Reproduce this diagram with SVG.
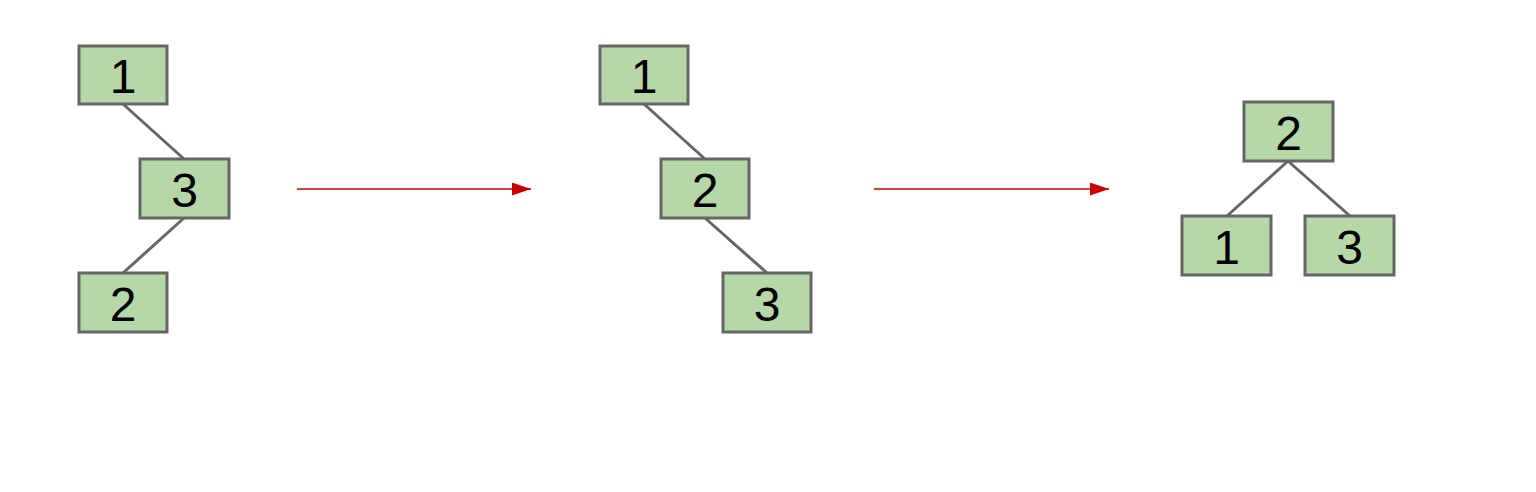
<svg xmlns="http://www.w3.org/2000/svg" width="1536" height="492" viewBox="0 0 1536 492">
<style>
.box{fill:#b6d7a8;stroke:#666666;stroke-width:3}
.lbl{font-family:"Liberation Sans",Arial,sans-serif;font-size:48px;fill:#000;text-anchor:middle}
.edge{stroke:#666666;stroke-width:3;fill:none}
.arr{stroke:#cc0000;stroke-width:1.5;fill:none}
</style>
<defs>
<marker id="ah" viewBox="0 0 10 10" refX="10" refY="5" markerWidth="19" markerHeight="13" markerUnits="userSpaceOnUse" orient="auto" preserveAspectRatio="none">
<path d="M0,0 L10,5 L0,10 z" fill="#cc0000"/>
</marker>
</defs>
<rect width="1536" height="492" fill="#ffffff"/>
<g id="connectors">
<line class="edge" x1="123" y1="104" x2="184" y2="159"/>
<line class="edge" x1="184" y1="218" x2="123" y2="273"/>
<line class="edge" x1="644" y1="104" x2="705" y2="159"/>
<line class="edge" x1="705" y1="218" x2="767" y2="273"/>
<line class="edge" x1="1288" y1="161" x2="1227" y2="216"/>
<line class="edge" x1="1288" y1="161" x2="1350" y2="216"/>
<line class="arr" x1="297" y1="189" x2="531" y2="189" marker-end="url(#ah)"/>
<line class="arr" x1="874" y1="189" x2="1109" y2="189" marker-end="url(#ah)"/>
</g>
<g id="t1n1"><rect class="box" x="79" y="46" width="88" height="58"/><text class="lbl" x="123" y="92.5">1</text></g>
<g id="t1n3"><rect class="box" x="140" y="159" width="89" height="59"/><text class="lbl" x="184.5" y="206.5">3</text></g>
<g id="t1n2"><rect class="box" x="79" y="273" width="88" height="59"/><text class="lbl" x="123" y="320.5">2</text></g>
<g id="t2n1"><rect class="box" x="600" y="46" width="88" height="58"/><text class="lbl" x="644" y="92.5">1</text></g>
<g id="t2n2"><rect class="box" x="661" y="159" width="88" height="59"/><text class="lbl" x="705" y="206.5">2</text></g>
<g id="t2n3"><rect class="box" x="723" y="273" width="88" height="59"/><text class="lbl" x="767" y="320.5">3</text></g>
<g id="t3n2"><rect class="box" x="1244" y="102" width="89" height="59"/><text class="lbl" x="1288.5" y="149.5">2</text></g>
<g id="t3n1"><rect class="box" x="1182" y="216" width="89" height="59"/><text class="lbl" x="1226.5" y="263.5">1</text></g>
<g id="t3n3"><rect class="box" x="1305" y="216" width="89" height="59"/><text class="lbl" x="1349.5" y="263.5">3</text></g>
</svg>
